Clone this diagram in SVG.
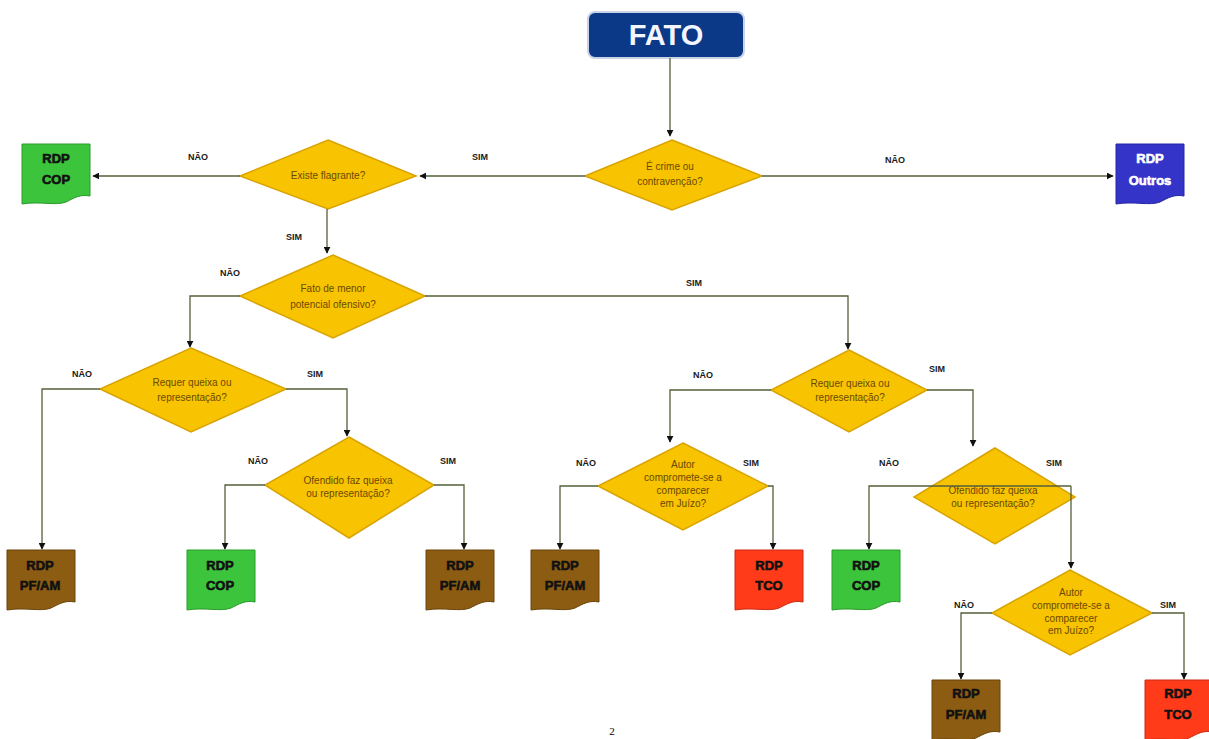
<svg xmlns="http://www.w3.org/2000/svg" xmlns:xlink="http://www.w3.org/1999/xlink" width="1209" height="739" viewBox="0 0 1209 739">
<style>
.dia{fill:#f8c300;stroke:#d9a300;stroke-width:1.5}
.dt{font-family:"Liberation Sans",Arial,sans-serif;font-size:10px;fill:#6b4a00;text-anchor:middle}
.lbl{font-family:"Liberation Sans",Arial,sans-serif;font-size:9px;font-weight:bold;fill:#1a1a1a;text-anchor:middle}
.doct{font-family:"Liberation Sans",Arial,sans-serif;font-size:13px;font-weight:bold;text-anchor:middle;stroke-width:0.6}
.dk{fill:#111;stroke:#111}
.wt{fill:#fff;stroke:#fff}
.con{fill:none;stroke:#55603a;stroke-width:1.3}
</style>
<defs>
<marker id="ah" viewBox="0 0 10 10" refX="9" refY="5" markerWidth="7" markerHeight="7" orient="auto" markerUnits="userSpaceOnUse">
<path d="M0,0 L10,5 L0,10 Z" fill="#111"/>
</marker>
<path id="doc" d="M0,0 H68 V52 C58,50 52,54 44,58 C34,62 18,57 0,60 Z"/>
</defs>
<rect width="1209" height="739" fill="#fff"/>

<g id="fato">
<rect x="588" y="12" width="156" height="46" rx="7" fill="#0b3887" stroke="#c9d2e6" stroke-width="2"/>
<text x="666" y="45" font-family="Liberation Sans,Arial,sans-serif" font-size="29" font-weight="bold" fill="#f4f6ff" text-anchor="middle">FATO</text>
</g>

<g id="d-crime">
<polygon class="dia" points="672,140 762,176 672,210 585,176"/>
<text class="dt" x="670" y="170">É crime ou</text>
<text class="dt" x="670" y="185">contravenção?</text>
</g>

<g id="d-flagrante">
<polygon class="dia" points="328,140 416,176 328,209 240,176"/>
<text class="dt" x="328" y="179">Existe flagrante?</text>
</g>

<g id="d-menor">
<polygon class="dia" points="333,255 425,296 333,338 240,296"/>
<text class="dt" x="333" y="292">Fato de menor</text>
<text class="dt" x="333" y="308">potencial ofensivo?</text>
</g>

<g id="d-requer-l">
<polygon class="dia" points="191,348 286,389 191,432 100,389"/>
<text class="dt" x="192" y="386">Requer queixa ou</text>
<text class="dt" x="192" y="401">representação?</text>
</g>

<g id="d-ofendido-l">
<polygon class="dia" points="349,437 434,485 349,538 265,485"/>
<text class="dt" x="348" y="484">Ofendido faz queixa</text>
<text class="dt" x="348" y="497">ou representação?</text>
</g>

<g id="d-requer-r">
<polygon class="dia" points="849,350 927,390 849,432 771,390"/>
<text class="dt" x="850" y="387">Requer queixa ou</text>
<text class="dt" x="850" y="401">representação?</text>
</g>

<g id="d-autor-m">
<polygon class="dia" points="683,443 768,486 683,530 598,486"/>
<text class="dt" x="683" y="468">Autor</text>
<text class="dt" x="683" y="481">compromete-se a</text>
<text class="dt" x="683" y="494">comparecer</text>
<text class="dt" x="683" y="507">em Juízo?</text>
</g>

<g id="d-ofendido-r">
<polygon class="dia" points="995,448 1075,497 995,544 914,497"/>
<text class="dt" x="993" y="494">Ofendido faz queixa</text>
<text class="dt" x="993" y="507">ou representação?</text>
</g>

<g id="d-autor-r">
<polygon class="dia" points="1070,570 1152,613 1070,655 992,613"/>
<text class="dt" x="1071" y="596">Autor</text>
<text class="dt" x="1071" y="609">compromete-se a</text>
<text class="dt" x="1071" y="622">comparecer</text>
<text class="dt" x="1071" y="634">em Juízo?</text>
</g>

<g id="doc-cop-top">
<use xlink:href="#doc" href="#doc" x="22" y="144" fill="#3cc43c" stroke="#2a9a2a"/>
<text class="doct dk" x="56" y="163">RDP</text>
<text class="doct dk" x="56" y="184">COP</text>
</g>

<g id="doc-outros">
<use xlink:href="#doc" href="#doc" x="1116" y="144" fill="#3434c8" stroke="#2626a0"/>
<text class="doct wt" x="1150" y="163">RDP</text>
<text class="doct wt" x="1150" y="185">Outros</text>
</g>

<g id="doc-pfam-1">
<use xlink:href="#doc" href="#doc" x="7" y="550" fill="#8c5c12" stroke="#6a440a"/>
<text class="doct dk" x="40" y="570">RDP</text>
<text class="doct dk" x="40" y="590">PF/AM</text>
</g>

<g id="doc-cop-2">
<use xlink:href="#doc" href="#doc" x="187" y="550" fill="#3cc43c" stroke="#2a9a2a"/>
<text class="doct dk" x="220" y="570">RDP</text>
<text class="doct dk" x="220" y="590">COP</text>
</g>

<g id="doc-pfam-2">
<use xlink:href="#doc" href="#doc" x="426" y="550" fill="#8c5c12" stroke="#6a440a"/>
<text class="doct dk" x="460" y="570">RDP</text>
<text class="doct dk" x="460" y="590">PF/AM</text>
</g>

<g id="doc-pfam-3">
<use xlink:href="#doc" href="#doc" x="531" y="550" fill="#8c5c12" stroke="#6a440a"/>
<text class="doct dk" x="565" y="570">RDP</text>
<text class="doct dk" x="565" y="590">PF/AM</text>
</g>

<g id="doc-tco-1">
<use xlink:href="#doc" href="#doc" x="735" y="550" fill="#ff3b1a" stroke="#cc2a10"/>
<text class="doct dk" x="769" y="570">RDP</text>
<text class="doct dk" x="769" y="590">TCO</text>
</g>

<g id="doc-cop-3">
<use xlink:href="#doc" href="#doc" x="832" y="550" fill="#3cc43c" stroke="#2a9a2a"/>
<text class="doct dk" x="866" y="570">RDP</text>
<text class="doct dk" x="866" y="590">COP</text>
</g>

<g id="doc-pfam-4">
<use xlink:href="#doc" href="#doc" x="932" y="680" fill="#8c5c12" stroke="#6a440a"/>
<text class="doct dk" x="966" y="698">RDP</text>
<text class="doct dk" x="966" y="719">PF/AM</text>
</g>

<g id="doc-tco-2">
<use xlink:href="#doc" href="#doc" x="1145" y="680" fill="#ff3b1a" stroke="#cc2a10"/>
<text class="doct dk" x="1178" y="698">RDP</text>
<text class="doct dk" x="1178" y="719">TCO</text>
</g>

<g id="connectors">
<path class="con" d="M670,58 V136" marker-end="url(#ah)"/>
<path class="con" d="M585,176 H420" marker-end="url(#ah)"/>
<path class="con" d="M762,176 H1113" marker-end="url(#ah)"/>
<path class="con" d="M240,176 H93" marker-end="url(#ah)"/>
<path class="con" d="M327,209 V253" marker-end="url(#ah)"/>
<path class="con" d="M240,296 H190 V347" marker-end="url(#ah)"/>
<path class="con" d="M425,296 H848 V349" marker-end="url(#ah)"/>
<path class="con" d="M100,389 H42 V549" marker-end="url(#ah)"/>
<path class="con" d="M286,389 H347 V436" marker-end="url(#ah)"/>
<path class="con" d="M265,485 H225 V549" marker-end="url(#ah)"/>
<path class="con" d="M434,485 H464 V549" marker-end="url(#ah)"/>
<path class="con" d="M771,390 H670 V442" marker-end="url(#ah)"/>
<path class="con" d="M927,390 H973 V446" marker-end="url(#ah)"/>
<path class="con" d="M598,486 H560 V549" marker-end="url(#ah)"/>
<path class="con" d="M768,486 H773 V549" marker-end="url(#ah)"/>
<path class="con" d="M1071,486 H869 V549" marker-end="url(#ah)"/>
<path class="con" d="M1071,486 V568" marker-end="url(#ah)"/>
<path class="con" d="M992,613 H961 V679" marker-end="url(#ah)"/>
<path class="con" d="M1152,613 H1184 V679" marker-end="url(#ah)"/>
<text class="lbl" x="480" y="160">SIM</text>
<text class="lbl" x="895" y="163">NÃO</text>
<text class="lbl" x="198" y="160">NÃO</text>
<text class="lbl" x="294" y="240">SIM</text>
<text class="lbl" x="230" y="276">NÃO</text>
<text class="lbl" x="694" y="286">SIM</text>
<text class="lbl" x="82" y="377">NÃO</text>
<text class="lbl" x="315" y="377">SIM</text>
<text class="lbl" x="258" y="464">NÃO</text>
<text class="lbl" x="448" y="464">SIM</text>
<text class="lbl" x="703" y="378">NÃO</text>
<text class="lbl" x="937" y="372">SIM</text>
<text class="lbl" x="586" y="466">NÃO</text>
<text class="lbl" x="751" y="466">SIM</text>
<text class="lbl" x="889" y="466">NÃO</text>
<text class="lbl" x="1054" y="466">SIM</text>
<text class="lbl" x="964" y="608">NÃO</text>
<text class="lbl" x="1168" y="608">SIM</text>
</g>

<text x="612" y="735" font-family="Liberation Serif,serif" font-size="11" fill="#000" text-anchor="middle">2</text>
</svg>
